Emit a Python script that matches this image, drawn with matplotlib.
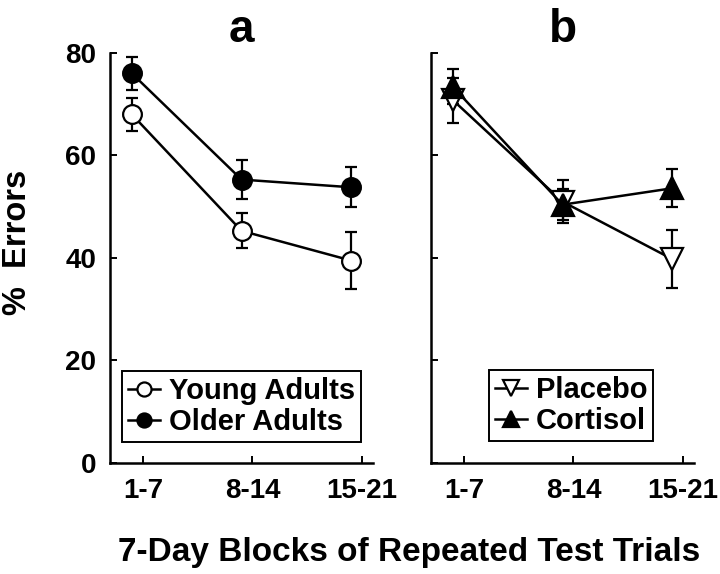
import matplotlib
matplotlib.use("Agg")
from matplotlib import pyplot as plt

# block labels and data
blocks = ["1-7", "8-14", "15-21"]

young = [68.0, 45.3, 39.5]
young_err = [3.2, 3.4, 5.5]
older = [76.0, 55.3, 53.8]
older_err = [3.2, 3.8, 3.9]

placebo = [70.8, 51.0, 39.8]
placebo_err = [4.4, 4.2, 5.6]
cortisol = [73.4, 50.4, 53.6]
cortisol_err = [3.4, 3.0, 3.7]

plt.rcParams['font.family'] = ['Liberation Sans', 'DejaVu Sans']
plt.rcParams['font.weight'] = 'bold'

fig = plt.figure(figsize=(7.2, 5.74), dpi=100)
ax_a = fig.add_axes([0.1528, 0.1934, 0.3653, 0.7143])
ax_b = fig.add_axes([0.5986, 0.1934, 0.3653, 0.7143])

tick_pos = [1, 2, 3]
pts = [p - 0.1 for p in tick_pos]


def draw_series(ax, y, err, marker, face, ms, label):
    ax.errorbar(pts, y, yerr=err, fmt='none', ecolor='black',
                elinewidth=1.6, capsize=4, capthick=1.6, zorder=2)
    ax.plot(pts, y, color='black', lw=1.8, marker=marker, markersize=ms,
            markerfacecolor=face, markeredgecolor='black', markeredgewidth=1.6,
            label=label, zorder=3)


draw_series(ax_a, young, young_err, 'o', 'white', 13.5, 'Young Adults')
draw_series(ax_a, older, older_err, 'o', 'black', 13.5, 'Older Adults')
draw_series(ax_b, placebo, placebo_err, 'v', 'white', 15.5, 'Placebo')
draw_series(ax_b, cortisol, cortisol_err, '^', 'black', 15.5, 'Cortisol')

for ax, title in [(ax_a, 'a'), (ax_b, 'b')]:
    ax.set_xlim(0.7, 3.1)
    ax.set_ylim(0, 80)
    ax.set_xticks(tick_pos)
    ax.set_xticklabels(blocks)
    ax.set_yticks([0, 20, 40, 60, 80])
    for side in ['top', 'right']:
        ax.spines[side].set_visible(False)
    for side in ['left', 'bottom']:
        ax.spines[side].set_linewidth(1.8)
    ax.tick_params(direction='in', length=5, width=1.4, labelsize=20)
    ax.tick_params(axis='y', pad=10)
    ax.tick_params(axis='x', pad=11)
    ax.set_title(title, fontsize=33, fontweight='bold', pad=8)
    for lab in ax.get_xticklabels() + ax.get_yticklabels():
        lab.set_fontweight('bold')

ax_b.set_yticklabels([])

for ax, anchor in [(ax_a, (0.046, 0.051)), (ax_b, (0.22, 0.054))]:
    leg = ax.legend(loc='lower left', bbox_to_anchor=anchor, borderaxespad=0,
                    fontsize=21, handlelength=1.1, handletextpad=0.3,
                    borderpad=0.2, labelspacing=0.1, markerscale=0.75,
                    fancybox=False, framealpha=1)
    leg.get_frame().set_edgecolor('black')
    leg.get_frame().set_linewidth(1.4)

fig.text(0.024, 0.577, '%  Errors', rotation=90, ha='center', va='center',
         fontsize=23.5, fontweight='bold')
fig.text(0.568, 0.0226, '7-Day Blocks of Repeated Test Trials', ha='center',
         va='baseline', fontsize=24, fontweight='bold')

fig.savefig('out.png', dpi=100)
